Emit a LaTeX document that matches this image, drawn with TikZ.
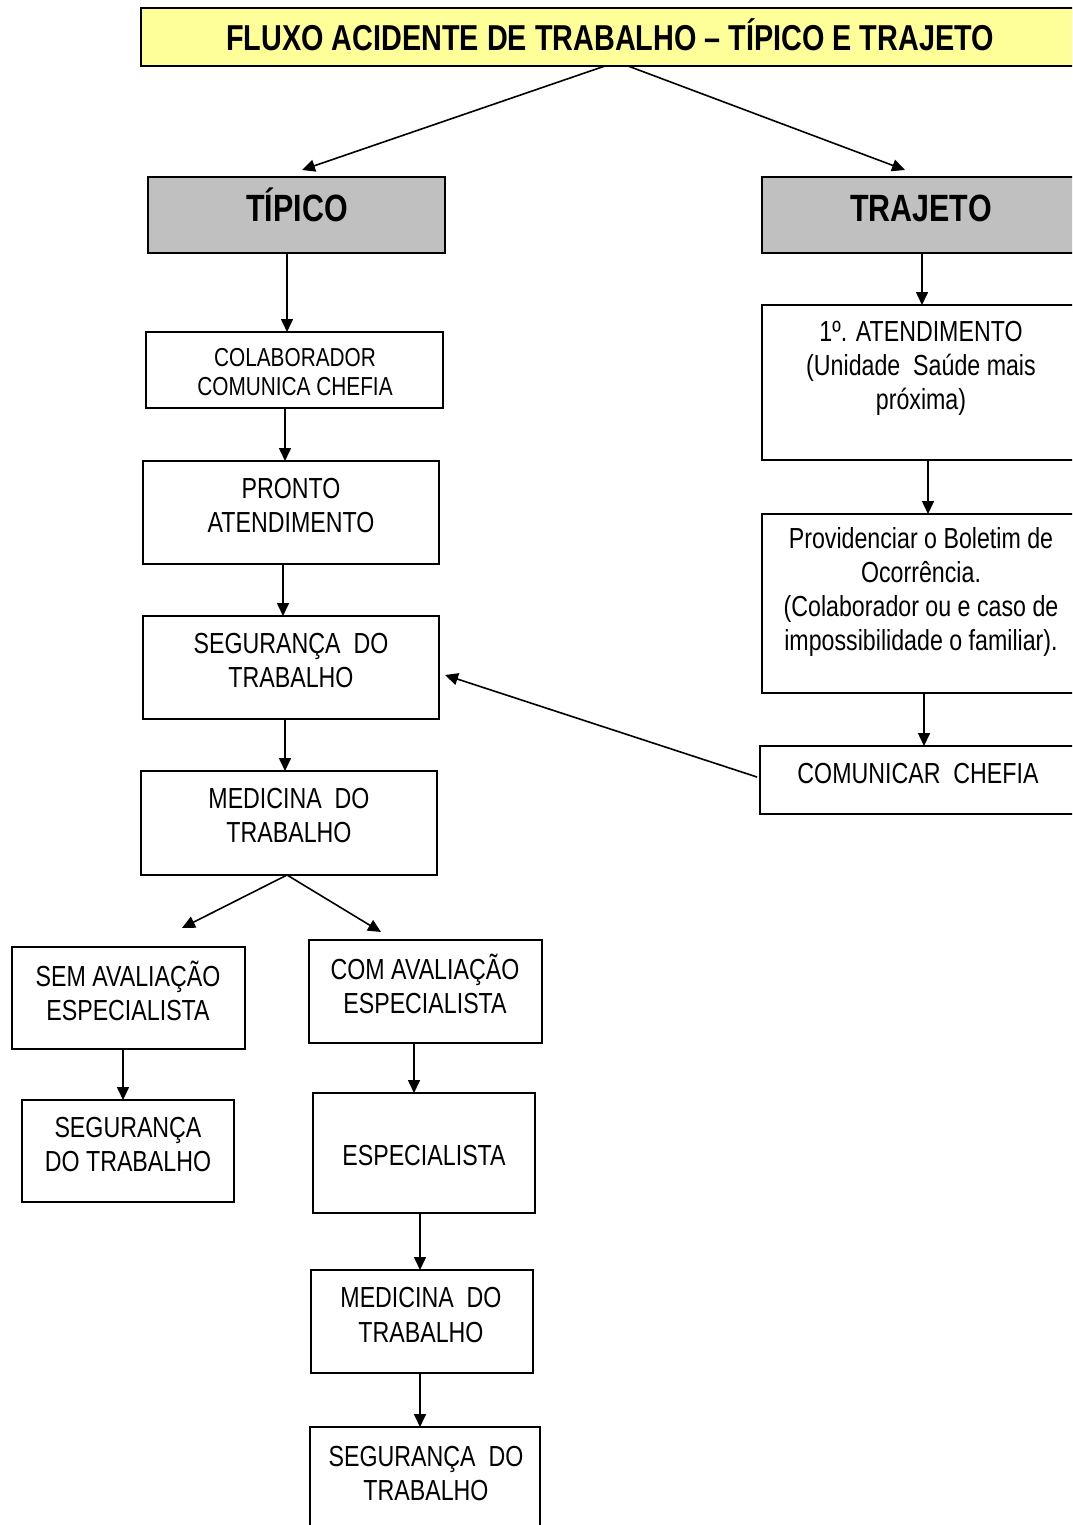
\documentclass[tikz,border=0pt]{standalone}
\usepackage{fontspec}
\setmainfont{Liberation Sans}[FakeStretch=0.8]
\usetikzlibrary{arrows.meta,calc}
\definecolor{titleyellow}{HTML}{FFFF99}
\definecolor{headgray}{HTML}{C0C0C0}
\newcommand\mybox[6]{\node[box,#6,minimum width={(#4-#2)*1pt},minimum height={(#5-#3)*1pt}] (#1) at ({(#2+#4)/2},{(#3+#5)/2}) {};}
\begin{document}
\begin{tikzpicture}[x=1pt,y=-1pt,
  box/.style={draw, line width=1.8pt, rectangle, inner sep=0pt, outer sep=0pt},
  txt/.style={align=center, inner sep=0pt, font=\fontsize{29}{34}\selectfont},
  smalltxt/.style={align=center, inner sep=0pt, font=\fontsize{26}{29}\selectfont},
  headtxt/.style={align=center, inner sep=0pt, font=\bfseries\fontsize{38}{42}\selectfont},
  arr/.style={line width=1.6pt, -{Triangle[length=13pt,width=12pt]}}]
\useasboundingbox (0,0) rectangle (1072,1525);
\clip (0,0) rectangle (1072,1525);
% boxes
\mybox{title}{141}{8}{1090}{66}{fill=titleyellow}
\mybox{tipico}{148}{177}{445}{253}{fill=headgray}
\mybox{trajeto}{762}{177}{1085}{253}{fill=headgray}
\mybox{colab}{146}{332}{443}{408}{}
\mybox{pronto}{143}{461}{439}{564}{}
\mybox{segA}{143}{616}{439}{719}{}
\mybox{medA}{141}{771}{437}{875}{}
\mybox{sem}{12}{947}{245}{1049}{}
\mybox{com}{309}{940}{542}{1043}{}
\mybox{segB}{22}{1100}{234}{1202}{}
\mybox{esp}{313}{1093}{535}{1213}{}
\mybox{medB}{311}{1270}{533}{1373}{}
\mybox{segC}{310}{1427}{540}{1540}{}
\mybox{aten}{762}{305}{1085}{460}{}
\mybox{prov}{762}{514}{1085}{693}{}
\mybox{comch}{760}{746}{1085}{814}{}
% texts
\node[headtxt, font=\bfseries\fontsize{36}{40}\selectfont, anchor=base] (title-t) at (610,51) {FLUXO ACIDENTE DE TRABALHO – TÍPICO E TRAJETO};
\node[headtxt, anchor=base] (tipico-t) at (297,222) {TÍPICO};
\node[headtxt, anchor=base] (trajeto-t) at (921,222) {TRAJETO};
\node[smalltxt] (colab-t) at (295,372) {COLABORADOR\\COMUNICA CHEFIA};
\node[txt] (pronto-t) at (291,506) {PRONTO\\ATENDIMENTO};
\node[txt] (segA-t) at (291,661) {SEGURANÇA~~DO\\TRABALHO};
\node[txt] (medA-t) at (289,816) {MEDICINA~~DO\\TRABALHO};
\node[txt] (sem-t) at (128,991) {SEM AVALIAÇÃO\\ESPECIALISTA};
\node[txt] (com-t) at (425,984) {COM AVALIAÇÃO\\ESPECIALISTA};
\node[txt] (segB-t) at (128,1145) {SEGURANÇA\\DO TRABALHO};
\node[txt] (esp-t) at (424,1156) {ESPECIALISTA};
\node[txt] (medB-t) at (421,1315) {MEDICINA~~DO\\TRABALHO};
\node[txt] (segC-t) at (426,1473) {SEGURANÇA~~DO\\TRABALHO};
\node[txt] (aten-t) at (921,368) {1º. ATENDIMENTO\\(Unidade~~Saúde mais\\próxima)};
\node[txt] (prov-t) at (921,592) {Providenciar o Boletim de\\Ocorrência.\\(Colaborador ou e caso de\\impossibilidade o familiar).};
\node[txt] (comch-t) at (918,774) {COMUNICAR~~CHEFIA};
% connector end points
\coordinate (ts1) at (605,66);
\coordinate (ts2) at (628,66);
\coordinate (te1) at (302,170);
\coordinate (te2) at (905,170);
\coordinate (me1) at (182,928);
\coordinate (me2) at (381,932);
% connectors
\draw[arr] (ts1) -- (te1);
\draw[arr] (ts2) -- (te2);
\draw[arr] ([xshift=-9.5pt]tipico.south) -- ([xshift=-9.5pt]tipico.south |- colab.north);
\draw[arr] ([xshift=-9.5pt]colab.south) -- ([xshift=-9.5pt]colab.south |- pronto.north);
\draw[arr] ([xshift=-8pt]pronto.south) -- ([xshift=-8pt]pronto.south |- segA.north);
\draw[arr] ([xshift=-6pt]segA.south) -- ([xshift=-6pt]segA.south |- medA.north);
\draw[arr] ([xshift=-2pt]medA.south) -- (me1);
\draw[arr] ([xshift=-2pt]medA.south) -- (me2);
\draw[arr] ([xshift=-5.5pt]sem.south) -- ([xshift=-5.5pt]sem.south |- segB.north);
\draw[arr] ([xshift=-11.5pt]com.south) -- ([xshift=-11.5pt]com.south |- esp.north);
\draw[arr] ([xshift=-4pt]esp.south) -- ([xshift=-4pt]esp.south |- medB.north);
\draw[arr] ([xshift=-2pt]medB.south) -- ([xshift=-2pt]medB.south |- segC.north);
\draw[arr] ([xshift=-1.5pt]trajeto.south) -- ([xshift=-1.5pt]trajeto.south |- aten.north);
\draw[arr] ([xshift=4.5pt]aten.south) -- ([xshift=4.5pt]aten.south |- prov.north);
\draw[arr] ([xshift=0.5pt]prov.south) -- ([xshift=0.5pt]prov.south |- comch.north);
\draw[arr] ([yshift=3pt,xshift=-3pt]comch.west) -- ([yshift=-7.5pt,xshift=6pt]segA.east);
\end{tikzpicture}
\end{document}
